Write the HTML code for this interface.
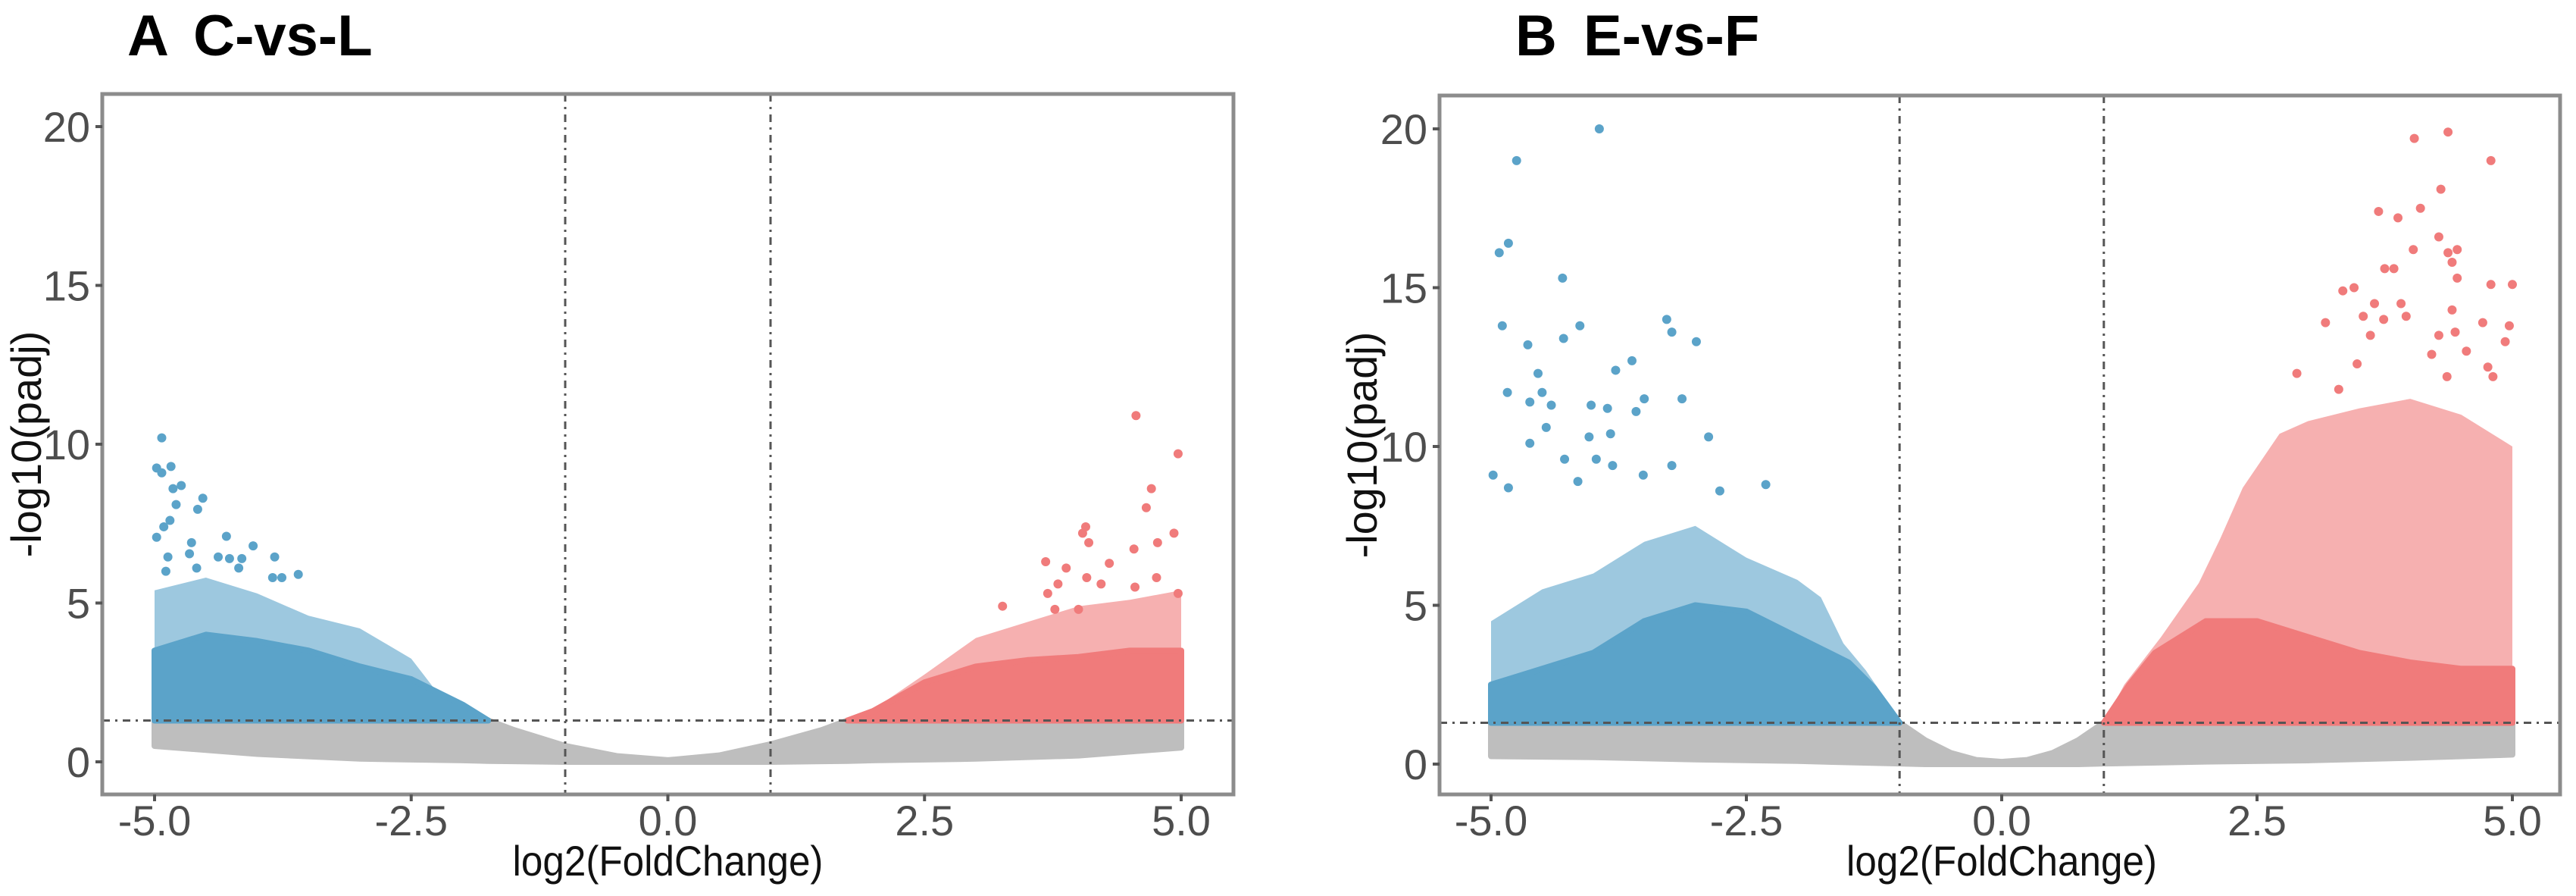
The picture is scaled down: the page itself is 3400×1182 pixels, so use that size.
<!DOCTYPE html>
<html><head><meta charset="utf-8"><style>
html,body{margin:0;padding:0;background:#fff;}
svg{display:block;font-family:"Liberation Sans",Arial,sans-serif;}
</style></head><body>
<svg id="fig" width="3400" height="1182" viewBox="0 0 3400 1182" xmlns="http://www.w3.org/2000/svg"></svg>
<script>
// ---------- Panel A (C-vs-L) data ----------
const aDenseBlueX = [-5, -4.5, -4, -3.5, -3, -2.5, -2, -1.75];
const aDenseBlueY = [3.5, 4.0, 3.8, 3.5, 3.0, 2.6, 1.8, 1.3];
const aSemiBlueX = [-5, -4.5, -4, -3.5, -3, -2.5, -2.25, -2, -1.75];
const aSemiBlueY = [5.4, 5.8, 5.3, 4.6, 4.2, 3.25, 2.2, 1.8, 1.3];
const aDenseRedX = [1.75, 2, 2.5, 3, 3.5, 4, 4.5, 5];
const aDenseRedY = [1.3, 1.6, 2.5, 3.0, 3.2, 3.3, 3.5, 3.5];
const aSemiRedX = [1.75, 2, 2.5, 3, 3.5, 4, 4.5, 5];
const aSemiRedY = [1.3, 1.65, 2.75, 3.9, 4.4, 4.9, 5.1, 5.4];
const aGrayX = [-5, -4, -3, -2, -1.75, -1.5, -1, -0.5, 0, 0.5, 1, 1.5, 1.75, 2, 3, 4, 5];
const aGrayTop = [1.3, 1.3, 1.3, 1.3, 1.3, 1.0, 0.5, 0.18, 0.05, 0.2, 0.55, 1.0, 1.3, 1.3, 1.3, 1.3, 1.3];
const aGrayBot = [0.5, 0.25, 0.1, 0.05, 0.03, 0.02, 0.0, 0.0, 0.0, 0.0, 0.0, 0.02, 0.03, 0.05, 0.1, 0.2, 0.45];
const aBlueX = [-4.93,-4.98,-4.93,-4.84,-4.82,-4.74,-4.79,-4.58,-4.53,-4.85,-4.91,-4.98,-4.3,-4.64,-4.04,-4.66,-4.38,-3.83,-4.87,-4.27,-4.15,-4.18,-3.6,-3.85,-3.76,-4.89,-4.59];
const aBlueY = [10.2,9.25,9.1,9.3,8.6,8.7,8.1,7.95,8.3,7.6,7.4,7.07,7.1,6.9,6.8,6.55,6.45,6.45,6.45,6.4,6.4,6.1,5.9,5.8,5.8,6.0,6.1];
const aRedX = [4.56,4.97,4.71,4.66,4.07,4.04,4.1,4.93,4.77,4.54,3.68,4.3,3.88,4.08,4.76,3.8,4.22,4.55,4.97,3.7,3.26,3.77,4.0];
const aRedY = [10.9,9.7,8.6,8.0,7.4,7.2,6.9,7.2,6.9,6.7,6.3,6.25,6.1,5.8,5.8,5.6,5.6,5.5,5.3,5.3,4.9,4.8,4.8];

// ---------- Panel B (E-vs-F) data ----------
const bDenseBlueX = [-5, -4.5, -4, -3.5, -3, -2.5, -2, -1.75, -1.5, -1.25, -1.0];
const bDenseBlueY = [2.5, 3.0, 3.5, 4.5, 5.0, 4.8, 4.0, 3.6, 3.2, 2.4, 1.3];
const bSemiBlueX = [-5, -4.5, -4, -3.5, -3, -2.5, -2, -1.77, -1.55, -1.33, -1.15, -1.0];
const bSemiBlueY = [4.5, 5.5, 6.0, 7.0, 7.5, 6.5, 5.8, 5.25, 3.8, 2.95, 2.1, 1.3];
const bDenseRedX = [1.0, 1.25, 1.5, 2, 2.5, 3, 3.5, 4, 4.5, 5];
const bDenseRedY = [1.3, 2.5, 3.5, 4.5, 4.5, 4.0, 3.5, 3.2, 3.0, 3.0];
const bSemiRedX = [1.0, 1.2, 1.56, 1.93, 2.14, 2.36, 2.72, 3, 3.5, 4, 4.5, 5];
const bSemiRedY = [1.3, 2.5, 4.0, 5.7, 7.1, 8.7, 10.4, 10.8, 11.2, 11.5, 11, 10];
const bGrayX = [-5, -4, -3, -2, -1, -0.75, -0.5, -0.25, 0, 0.25, 0.5, 0.75, 1, 2, 3, 4, 5];
const bGrayTop = [1.3, 1.3, 1.3, 1.3, 1.3, 0.75, 0.35, 0.13, 0.07, 0.13, 0.35, 0.75, 1.3, 1.3, 1.3, 1.3, 1.3];
const bGrayBot = [0.25, 0.22, 0.15, 0.1, 0.02, 0.0, 0.0, 0.0, 0.0, 0.0, 0.0, 0.0, 0.02, 0.08, 0.12, 0.2, 0.3];
const bBlueX = [-3.94,-4.75,-4.83,-4.92,-4.30,-4.89,-4.13,-4.29,-4.64,-3.28,-3.23,-2.99,-3.62,-3.78,-4.54,-4.84,-4.5,-4.62,-4.41,-4.02,-3.86,-3.5,-3.58,-3.13,-4.46,-4.62,-4.04,-3.83,-2.87,-4.28,-3.97,-3.81,-3.23,-4.98,-4.83,-4.15,-3.51,-2.31,-2.76];
const bBlueY = [20.0,19.0,16.4,16.1,15.3,13.8,13.8,13.4,13.2,14.0,13.6,13.3,12.7,12.4,12.3,11.7,11.7,11.4,11.3,11.3,11.2,11.5,11.1,11.5,10.6,10.1,10.3,10.4,10.3,9.6,9.6,9.4,9.4,9.1,8.7,8.9,9.1,8.8,8.6];
const bRedX = [4.37,4.04,4.79,4.30,3.69,3.88,4.1,4.28,4.03,4.37,4.46,4.41,3.75,3.84,4.46,4.79,5.0,3.34,3.45,3.65,3.91,3.17,3.54,3.74,3.96,4.41,4.71,4.97,3.61,4.28,4.44,4.93,4.21,4.55,3.48,2.89,4.76,4.81,3.3,4.36];
const bRedY = [19.9,19.7,19.0,18.1,17.4,17.2,17.5,16.6,16.2,16.1,16.2,15.8,15.6,15.6,15.3,15.1,15.1,14.9,15.0,14.5,14.5,13.9,14.1,14.0,14.1,14.3,13.9,13.8,13.5,13.5,13.6,13.3,12.9,13.0,12.6,12.3,12.5,12.2,11.8,12.2];

const xTicks = [-5, -2.5, 0, 2.5, 5];
const xTickLabels = ["-5.0", "-2.5", "0.0", "2.5", "5.0"];
const yTicks = [0, 5, 10, 15, 20];
const yTickLabels = ["0", "5", "10", "15", "20"];

const NS = "http://www.w3.org/2000/svg";
const svg = document.getElementById("fig");
const BLUE = "#5ba3c9", RED = "#f07b7b", GRAY = "#bebebe";

function mk(tag, attrs, parent) {
  const e = document.createElementNS(NS, tag);
  for (const k in attrs) e.setAttribute(k, attrs[k]);
  (parent || svg).appendChild(e);
  return e;
}

function panel(cfg) {
  const g = mk("g", {});
  
  
  const sx = v => cfg.x0 + (v + 5) / 10 * (cfg.x5 - cfg.x0);
  const sy = v => cfg.y0 - v / 20 * (cfg.y0 - cfg.y20);
  const box = mk("rect", {x: cfg.left, y: cfg.top, width: cfg.right - cfg.left, height: cfg.bottom - cfg.top, fill: "#fff", stroke: "none"}, g);
  
  

  function band(xs, top, bot, color, op, name) {
    let pts = xs.map((x, i) => sx(x) + "," + sy(top[i]));
    for (let i = xs.length - 1; i >= 0; i--) pts.push(sx(xs[i]) + "," + sy(bot[i]));
    const attrs = {points: pts.join(" "), fill: color, "fill-opacity": op};
    if (op === 1) { attrs.stroke = color; attrs["stroke-width"] = 8; attrs["stroke-linejoin"] = "round"; }
    const p = mk("polygon", attrs, g);
    
    
  }
  const floor = arr => arr.map(() => 1.3);
  band(cfg.gx, cfg.gTop, cfg.gBot, GRAY, 1, "nonsignificant-points");
  band(cfg.sbx, cfg.sby, floor(cfg.sby), BLUE, 0.6, "down-regulated-sparse-cloud");
  band(cfg.dbx, cfg.dby, floor(cfg.dby), BLUE, 1, "down-regulated-dense-cloud");
  band(cfg.srx, cfg.sry, floor(cfg.sry), RED, 0.6, "up-regulated-sparse-cloud");
  band(cfg.drx, cfg.dry, floor(cfg.dry), RED, 1, "up-regulated-dense-cloud");

  cfg.bx.forEach((x, i) => {
    const c = mk("circle", {cx: sx(x), cy: sy(cfg.by[i]), r: 6, fill: BLUE}, g);
    
    
  });
  cfg.rx.forEach((x, i) => {
    const c = mk("circle", {cx: sx(x), cy: sy(cfg.ry[i]), r: 6, fill: RED}, g);
    
    
  });

  const dash = {stroke: "#555", "stroke-width": 3, "stroke-dasharray": "10,7,3,7", fill: "none"};
  [-1, 1].forEach(v => {
    const l = mk("line", Object.assign({x1: sx(v), x2: sx(v), y1: cfg.top, y2: cfg.bottom}, dash), g);
    
    
  });
  const h = mk("line", Object.assign({x1: cfg.left, x2: cfg.right, y1: sy(1.3), y2: sy(1.3)}, dash), g);
  
  

  const b = mk("rect", {x: cfg.left, y: cfg.top, width: cfg.right - cfg.left, height: cfg.bottom - cfg.top, fill: "none", stroke: "#8c8c8c", "stroke-width": 5}, g);
  
  

  xTicks.forEach((v, i) => {
    const t = mk("line", {x1: sx(v), x2: sx(v), y1: cfg.bottom, y2: cfg.bottom + 9, stroke: "#555", "stroke-width": 4}, g);
    
    
    const tx = mk("text", {x: sx(v), y: 1102, "font-size": 56, fill: "#4d4d4d", "text-anchor": "middle"}, g);
    tx.textContent = xTickLabels[i];
    
    
  });
  yTicks.forEach((v, i) => {
    const t = mk("line", {x1: cfg.left - 9, x2: cfg.left, y1: sy(v), y2: sy(v), stroke: "#555", "stroke-width": 4}, g);
    
    
    const tx = mk("text", {x: cfg.left - 16, y: sy(v) + 20, "font-size": 56, fill: "#4d4d4d", "text-anchor": "end"}, g);
    tx.textContent = yTickLabels[i];
    
    
  });
  const xt = mk("text", {x: sx(0), y: 1155, "font-size": 56, fill: "#111", "text-anchor": "middle", textLength: 410, lengthAdjust: "spacingAndGlyphs"}, g);
  xt.textContent = "log2(FoldChange)";
  
  
  const yc = (cfg.top + cfg.bottom) / 2;
  const yt = mk("text", {x: 0, y: 0, "font-size": 56, fill: "#111", "text-anchor": "middle", transform: "translate(" + (cfg.ytx + 14) + "," + yc + ") rotate(-90)"}, g);
  yt.textContent = "-log10(padj)";
  
  
  const ti = mk("text", {x: cfg.titleX, y: 73, "font-size": 76, "font-weight": "bold", fill: "#000", "word-spacing": 14}, g);
  ti.textContent = cfg.title;
  
  
}

panel({name: "panel-a-c-vs-l", title: "A C-vs-L", titleX: 168, ytx: 40,
  left: 135, right: 1628, top: 124, bottom: 1048, x0: 204, x5: 1559, y0: 1005, y20: 167,
  gx: aGrayX, gTop: aGrayTop, gBot: aGrayBot, sbx: aSemiBlueX, sby: aSemiBlueY, dbx: aDenseBlueX, dby: aDenseBlueY,
  srx: aSemiRedX, sry: aSemiRedY, drx: aDenseRedX, dry: aDenseRedY, bx: aBlueX, by: aBlueY, rx: aRedX, ry: aRedY});
panel({name: "panel-b-e-vs-f", title: "B E-vs-F", titleX: 2000, ytx: 1803,
  left: 1900, right: 3379, top: 126, bottom: 1048, x0: 1968, x5: 3316, y0: 1008, y20: 170,
  gx: bGrayX, gTop: bGrayTop, gBot: bGrayBot, sbx: bSemiBlueX, sby: bSemiBlueY, dbx: bDenseBlueX, dby: bDenseBlueY,
  srx: bSemiRedX, sry: bSemiRedY, drx: bDenseRedX, dry: bDenseRedY, bx: bBlueX, by: bBlueY, rx: bRedX, ry: bRedY});
</script>
</body></html>
